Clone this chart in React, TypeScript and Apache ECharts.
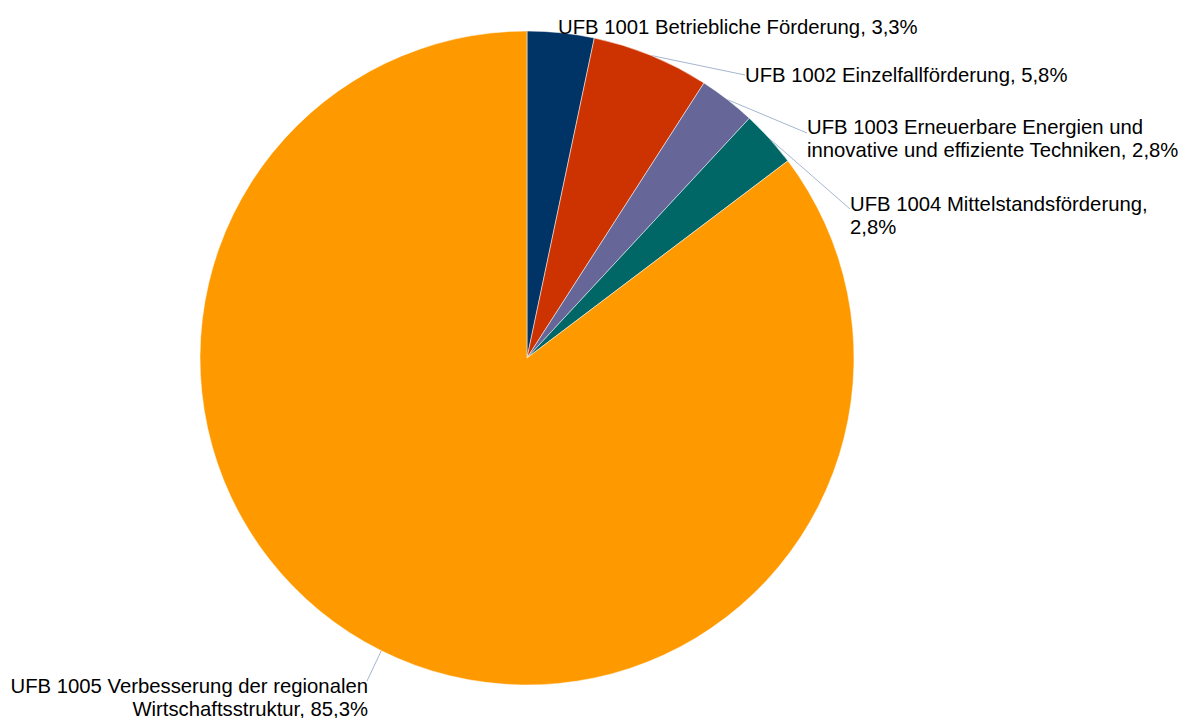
import React, { useEffect, useRef } from "react";
import * as echarts from "echarts";

const categories = [
  "UFB 1001 Betriebliche Förderung",
  "UFB 1002 Einzelfallförderung",
  "UFB 1003 Erneuerbare Energien und\ninnovative und effiziente Techniken",
  "UFB 1004 Mittelstandsförderung,\n",
  "UFB 1005 Verbesserung der regionalen\nWirtschaftsstruktur",
];
const shares = [3.3, 5.8, 2.8, 2.8, 85.3];
const colors = ["#003366", "#CC3300", "#666699", "#006666", "#FF9900"];

// label anchor placement (layout only)
const labelAnchors: { x: number; y: number; align: "left" | "right"; lx: number; ly: number }[] = [
  { x: 558, y: 27, align: "left", lx: 560, ly: 34 },
  { x: 745, y: 75, align: "left", lx: 745, ly: 75 },
  { x: 807, y: 138, align: "left", lx: 807, ly: 133 },
  { x: 850, y: 215, align: "left", lx: 850, ly: 209 },
  { x: 368, y: 697, align: "right", lx: 367, ly: 681 },
];

function fmtLabel(name: string, v: number) {
  const num = v.toFixed(1).replace(".", ",") + "%";
  if (name.endsWith(",\n")) return name + num;
  return name + ", " + num;
}

export default function App() {
  const ref = useRef<HTMLDivElement>(null);
  useEffect(() => {
    if (!ref.current) return;
    const chart = echarts.init(ref.current, undefined, { renderer: "svg" });
    chart.setOption({
      animation: false,
      backgroundColor: "#ffffff",
      series: [
        {
          type: "pie",
          center: [527, 358],
          radius: 327,
          startAngle: 90,
          clockwise: true,
          avoidLabelOverlap: false,
          itemStyle: { borderColor: "#ffffff", borderWidth: 0.5 },
          emphasis: { disabled: true },
          label: {
            show: true,
            position: "outside",
            color: "#000000",
            fontFamily: "Liberation Sans, Arial, sans-serif",
            fontSize: 20.3,
            lineHeight: 23,
            formatter: (p: any) => fmtLabel(p.name, p.value),
          },
          labelLine: {
            show: true,
            length: 10,
            length2: 10,
            lineStyle: { color: "#A6B6D0", width: 1 },
          },
          labelLayout: (params: any) => {
            const a = labelAnchors[params.dataIndex];
            const p0 = params.labelLinePoints ? params.labelLinePoints[0] : [a.lx, a.ly];
            const end = [a.lx, a.ly];
            return {
              x: a.x,
              y: a.y,
              align: a.align,
              verticalAlign: "middle",
              labelLinePoints: [p0, end, end],
            };
          },
          data: categories.map((c, i) => ({
            name: c,
            value: shares[i],
            itemStyle: { color: colors[i] },
          })),
        },
      ],
    });
    return () => chart.dispose();
  }, []);
  return (
    <div
      ref={ref}
      style={{ position: "absolute", left: 0, top: 0, width: 1187, height: 718 }}
    />
  );
}
